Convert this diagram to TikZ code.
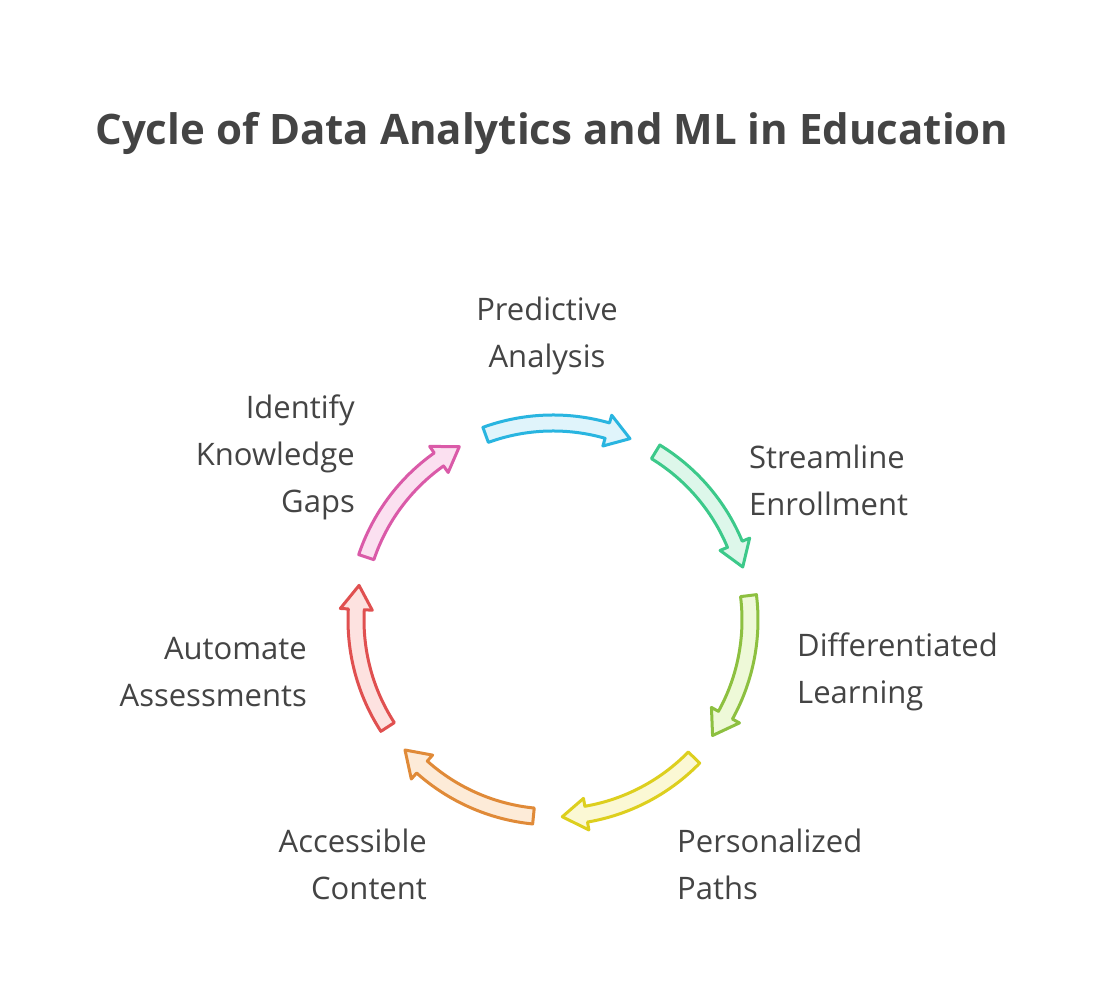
\documentclass[tikz,border=0pt]{standalone}
\usepackage{fontspec}
\setmainfont{Open Sans}
\definecolor{txt}{HTML}{444444}
\definecolor{d1}{HTML}{29B5E0}\definecolor{f1}{HTML}{E0F4FB}
\definecolor{d2}{HTML}{3CC98A}\definecolor{f2}{HTML}{DDF7EA}
\definecolor{d3}{HTML}{8DC040}\definecolor{f3}{HTML}{EEF9D8}
\definecolor{d4}{HTML}{DDCF1E}\definecolor{f4}{HTML}{FBF8D4}
\definecolor{d5}{HTML}{E08A38}\definecolor{f5}{HTML}{FDEBD8}
\definecolor{d6}{HTML}{E05050}\definecolor{f6}{HTML}{FDE2E0}
\definecolor{d7}{HTML}{DA5AA8}\definecolor{f7}{HTML}{FBE0F0}
\newcommand{\cycarrow}[4]{% start, end, draw, fill
  \pgfmathsetmacro{\ah}{#2+7}
  \draw[arr,draw=#3,fill=#4] ([shift={(#1:\R+8)}]c) arc[start angle=#1,end angle=\ah,radius=\R+8]
    -- ([shift={(\ah:\R+16)}]c) -- ([shift={(#2:\R)}]c) -- ([shift={(\ah:\R-16)}]c)
    -- ([shift={(\ah:\R-8)}]c) arc[start angle=\ah,end angle=#1,radius=\R-8] -- cycle;}
\begin{document}
\begin{tikzpicture}[x=1pt,y=1pt,
  lbl/.style={text=txt,font=\fontsize{31}{47}\selectfont,inner sep=0pt},
  arr/.style={line width=3pt,line join=round}]
\useasboundingbox[fill=white] (0,0) rectangle (1104,1008);
\node[text=txt,font=\fontsize{42}{52}\selectfont\bfseries] (title) at (552,875) {Cycle of Data Analytics and ML in Education};
\coordinate (c) at (553,388);
\def\R{197}
\cycarrow{110}{67}{d1}{f1}
\cycarrow{58.6}{15.6}{d2}{f2}
\cycarrow{7.1}{-35.9}{d3}{f3}
\cycarrow{-44.3}{-87.3}{d4}{f4}
\cycarrow{-95.7}{-138.7}{d5}{f5}
\cycarrow{-147.1}{-190.1}{d6}{f6}
\cycarrow{161.4}{118.4}{d7}{f7}
\node[lbl,align=center] (pa) at (547,672) {Predictive\\Analysis};
\node[lbl,align=left,anchor=west] (se) at (749,528) {Streamline\\Enrollment};
\node[lbl,align=left,anchor=west] (dl) at (797,336) {Differentiated\\Learning};
\node[lbl,align=left,anchor=west] (pp) at (677,144) {Personalized\\Paths};
\node[lbl,align=right,anchor=east] (ac) at (427,144) {Accessible\\Content};
\node[lbl,align=right,anchor=east] (aa) at (307,336) {Automate\\Assessments};
\node[lbl,align=right,anchor=east] (ik) at (355,551) {Identify\\Knowledge\\Gaps};
\end{tikzpicture}
\end{document}
